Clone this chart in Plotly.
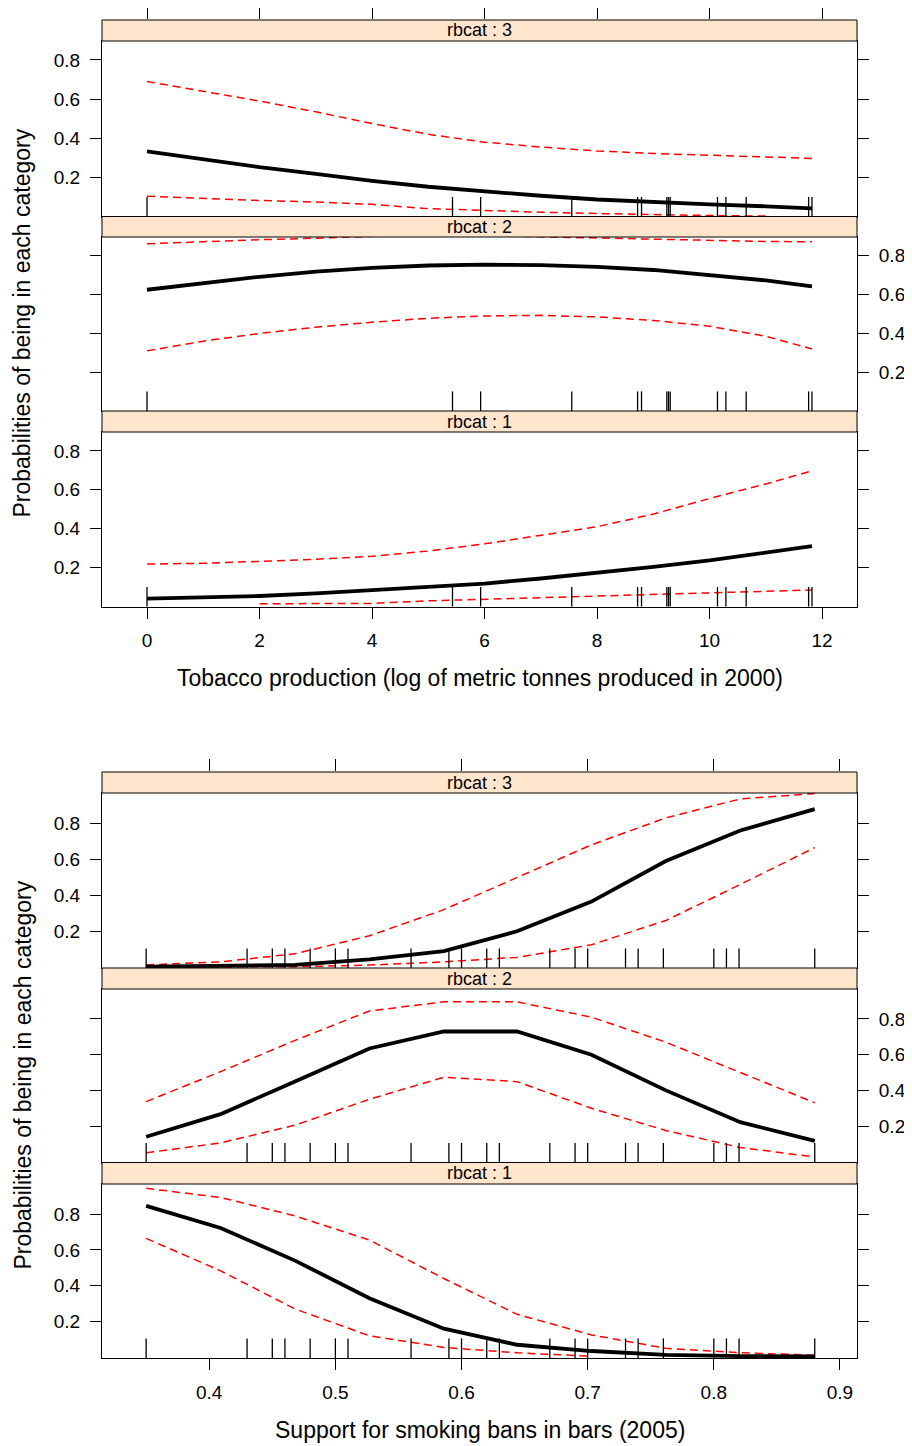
import plotly.graph_objects as go

# ---------------- data ----------------
# Top figure: tobacco production (log tonnes)
tob_x = [0, 1, 2, 3, 4, 5, 6, 7, 8, 9, 10, 11, 11.82]
tob_fit_3 = [0.333, 0.292, 0.252, 0.218, 0.182, 0.152, 0.127, 0.106, 0.087, 0.073, 0.062, 0.052, 0.042]
tob_up_3 = [0.69, 0.64, 0.59, 0.535, 0.475, 0.42, 0.38, 0.355, 0.335, 0.322, 0.313, 0.305, 0.297]
tob_lo_3 = [0.104, 0.092, 0.082, 0.074, 0.062, 0.040, 0.030, 0.022, 0.015, 0.009, 0.005, 0.002, None]
tob_fit_2 = [0.625, 0.66, 0.692, 0.718, 0.738, 0.75, 0.755, 0.752, 0.743, 0.727, 0.702, 0.673, 0.643]
tob_up_2 = [0.862, 0.873, 0.883, 0.891, 0.90, 0.905, 0.905, 0.898, 0.892, 0.886, 0.879, 0.874, 0.872]
tob_lo_2 = [0.31, 0.36, 0.40, 0.432, 0.458, 0.478, 0.49, 0.493, 0.485, 0.467, 0.437, 0.385, 0.32]
tob_fit_1 = [0.04, 0.045, 0.054, 0.067, 0.083, 0.10, 0.118, 0.144, 0.173, 0.204, 0.237, 0.275, 0.31]
tob_up_1 = [0.218, 0.222, 0.232, 0.243, 0.258, 0.285, 0.322, 0.365, 0.41, 0.475, 0.555, 0.63, 0.697]
tob_lo_1 = [None, None, 0.014, 0.014, 0.016, 0.029, 0.037, 0.045, 0.054, 0.063, 0.072, 0.079, 0.085]
tob_rug = [0.0, 5.43, 5.93, 7.55, 8.72, 8.79, 9.24, 9.27, 9.30, 10.14, 10.29, 10.65, 11.76, 11.82]
tob_ticks = [0, 2, 4, 6, 8, 10, 12]

# Bottom figure: support for smoking bans in bars
ban_x = [0.35, 0.409, 0.468, 0.527, 0.586, 0.644, 0.703, 0.762, 0.821, 0.88]
ban_fit_3 = [0.003, 0.006, 0.013, 0.044, 0.09, 0.20, 0.365, 0.59, 0.76, 0.878]
ban_up_3 = [0.013, 0.03, 0.075, 0.175, 0.32, 0.50, 0.68, 0.83, 0.935, 0.965]
ban_lo_3 = [0.001, 0.001, 0.003, 0.012, 0.03, 0.055, 0.125, 0.26, 0.46, 0.665]
ban_fit_2 = [0.14, 0.267, 0.45, 0.635, 0.73, 0.73, 0.60, 0.40, 0.222, 0.117]
ban_up_2 = [0.337, 0.505, 0.68, 0.845, 0.896, 0.896, 0.81, 0.67, 0.50, 0.331]
ban_lo_2 = [0.05, 0.106, 0.205, 0.35, 0.474, 0.449, 0.30, 0.175, 0.08, 0.027]
ban_fit_1 = [0.846, 0.722, 0.54, 0.33, 0.16, 0.07, 0.035, 0.013, 0.007, 0.005]
ban_up_1 = [0.944, 0.893, 0.79, 0.655, 0.44, 0.24, 0.125, 0.05, 0.025, 0.012]
ban_lo_1 = [0.664, 0.483, 0.27, 0.12, 0.055, 0.025, 0.006, None, None, None]
ban_rug = [0.35, 0.43, 0.45, 0.46, 0.48, 0.50, 0.51, 0.56, 0.59, 0.60, 0.62, 0.63,
           0.67, 0.69, 0.70, 0.73, 0.74, 0.76, 0.80, 0.81, 0.82, 0.88]
ban_ticks = [0.4, 0.5, 0.6, 0.7, 0.8, 0.9]

y_ticks = [0.2, 0.4, 0.6, 0.8]
strip_labels = ["rbcat : 3", "rbcat : 2", "rbcat : 1"]
y_title = "Probabilities of being in each category"
x_title_top = "Tobacco production (log of metric tonnes produced in 2000)"
x_title_bot = "Support for smoking bans in bars (2005)"

# ---------------- layout geometry (page pixels; page body has an 8px margin) ----------------
OFF = 8
W, H = 912 - OFF, 1446 - OFF
X0, X1 = 102, 857
FONT = "Liberation Sans, Arial, sans-serif"
STRIP_FILL = "#FFE5CC"


def py(p):
    return 1 - (p - OFF) / H


def pxf(p):
    return (p - OFF) / W


figs = [
    dict(x=tob_x, rug=tob_rug, ticks=tob_ticks, xr=[-0.8, 12.62], yr=[0.0, 0.897],
         series=[(tob_fit_3, tob_up_3, tob_lo_3), (tob_fit_2, tob_up_2, tob_lo_2),
                 (tob_fit_1, tob_up_1, tob_lo_1)],
         strips=[(20, 41), (216.5, 237), (411, 432)],
         panels=[(41, 216.5), (237, 411), (432, 606.5)],
         xtitle=x_title_top, xtitle_y=678, ytitle_y=323.5, base=0),
    dict(x=ban_x, rug=ban_rug, ticks=ban_ticks, xr=[0.315, 0.9135], yr=[-0.004, 0.968],
         series=[(ban_fit_3, ban_up_3, ban_lo_3), (ban_fit_2, ban_up_2, ban_lo_2),
                 (ban_fit_1, ban_up_1, ban_lo_1)],
         strips=[(772, 793), (968, 989), (1162.5, 1184)],
         panels=[(793, 968), (989, 1162.5), (1184, 1358)],
         xtitle=x_title_bot, xtitle_y=1430, ytitle_y=1075.5, base=4),
]

fig = go.Figure()
layout = dict(width=W, height=H, margin=dict(l=0, r=0, t=0, b=0),
              paper_bgcolor="white", plot_bgcolor="white", showlegend=False,
              hovermode=False, font=dict(family=FONT, color="black"))
shapes, annotations = [], []
xdom = [pxf(X0), pxf(X1)]

for f in figs:
    for k in range(3):
        idx = f["base"] + k + 1
        xa = "x" if idx == 1 else f"x{idx}"
        ya = "y" if idx == 1 else f"y{idx}"
        fit, up, lo = f["series"][k]
        for ci in (up, lo):
            fig.add_trace(go.Scatter(x=f["x"], y=ci, mode="lines", xaxis=xa, yaxis=ya,
                                     line=dict(color="#FF0000", width=1.5, dash="8px,5px"),
                                     connectgaps=False))
        fig.add_trace(go.Scatter(x=f["x"], y=fit, mode="lines", xaxis=xa, yaxis=ya,
                                 line=dict(color="black", width=3.8)))
        # rug: vertical tick markers centred on the axis floor (lower half clipped)
        fig.add_trace(go.Scatter(x=f["rug"], y=[f["yr"][0]] * len(f["rug"]), mode="markers",
                                 xaxis=xa, yaxis=ya, cliponaxis=True,
                                 marker=dict(symbol="line-ns", size=28,
                                             line=dict(color="black", width=1.3))))
        p0, p1 = f["panels"][k]
        is_bottom = (k == 2)
        layout[("xaxis" if idx == 1 else f"xaxis{idx}")] = dict(
            domain=xdom, anchor=ya, range=f["xr"], showgrid=False, zeroline=False,
            showline=True, mirror=True, linecolor="black", linewidth=1,
            tickvals=f["ticks"], ticks="outside" if is_bottom else "",
            ticklen=11, tickcolor="black", tickwidth=1,
            showticklabels=is_bottom, tickfont=dict(size=19, family=FONT, color="black"),
            ticklabelstandoff=6)
        layout[("yaxis" if idx == 1 else f"yaxis{idx}")] = dict(
            domain=[py(p1), py(p0)], anchor=xa, range=f["yr"], showgrid=False,
            zeroline=False, showline=True, mirror="ticks", linecolor="black", linewidth=1,
            tickvals=y_ticks, ticks="outside", ticklen=11, tickcolor="black", tickwidth=1,
            side="right" if k == 1 else "left",
            tickfont=dict(size=19, family=FONT, color="black"), ticklabelstandoff=6)
        s0, s1 = f["strips"][k]
        shapes.append(dict(type="rect", xref="paper", yref="paper", x0=xdom[0], x1=xdom[1],
                           y0=py(s1), y1=py(s0), fillcolor=STRIP_FILL,
                           line=dict(color="black", width=1), layer="above"))
        annotations.append(dict(text=strip_labels[k], xref="paper", yref="paper",
                                x=(xdom[0] + xdom[1]) / 2, y=py((s0 + s1) / 2),
                                xanchor="center", yanchor="middle", showarrow=False,
                                font=dict(size=18, family=FONT, color="black")))
    # top tick axis above the first strip
    tidx = f["base"] + 4
    s0, s1 = f["strips"][0]
    fig.add_trace(go.Scatter(x=[], y=[], xaxis=f"x{tidx}", yaxis=f"y{tidx}"))
    layout[f"yaxis{tidx}"] = dict(domain=[py(s1), py(s0)], anchor=f"x{tidx}", range=[0, 1],
                                  visible=False)
    layout[f"xaxis{tidx}"] = dict(domain=xdom, anchor=f"y{tidx}", side="top", range=f["xr"],
                                  tickvals=f["ticks"], ticks="outside", ticklen=12,
                                  tickcolor="black", tickwidth=1, showticklabels=False,
                                  showline=False, showgrid=False, zeroline=False)
    annotations.append(dict(text=f["xtitle"], xref="paper", yref="paper",
                            x=(xdom[0] + xdom[1]) / 2, y=py(f["xtitle_y"]),
                            xanchor="center", yanchor="middle", showarrow=False,
                            font=dict(size=23, family=FONT, color="black")))
    annotations.append(dict(text=y_title, xref="paper", yref="paper", textangle=-90,
                            x=pxf(22), y=py(f["ytitle_y"]), xanchor="center",
                            yanchor="middle", showarrow=False,
                            font=dict(size=23, family=FONT, color="black")))

layout["shapes"] = shapes
layout["annotations"] = annotations
fig.update_layout(**layout)
fig.write_html("out.html")
